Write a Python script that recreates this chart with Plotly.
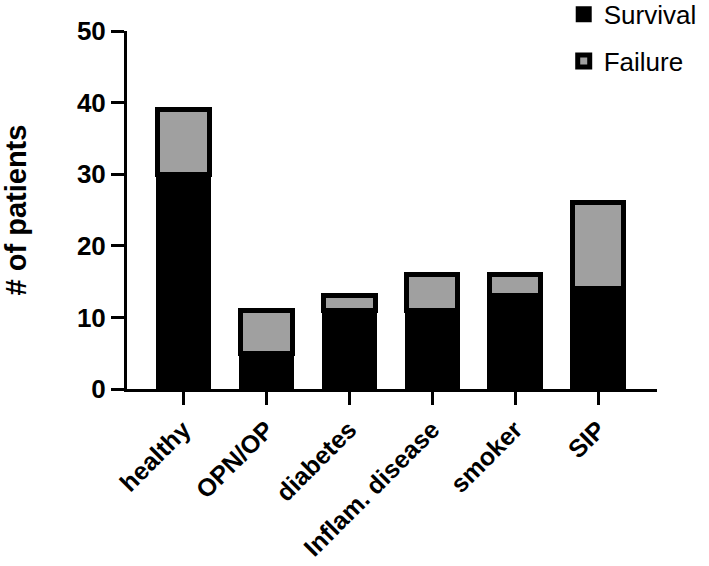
import plotly.graph_objects as go

categories = ["healthy", "OPN/OP", "diabetes", "Inflam. disease", "smoker", "SIP"]
survival = [30, 5, 11, 11, 13, 14]
failure = [9, 6, 2, 5, 3, 12]
y_ticks = [0, 10, 20, 30, 40, 50]

FONT = "Liberation Sans, Arial, sans-serif"

fig = go.Figure()
fig.add_trace(go.Bar(
    x=categories, y=survival, name="Survival", legendgroup="s",
    marker=dict(color="#000000", line=dict(color="#000000", width=4)),
    width=0.62,
))
fig.add_trace(go.Bar(
    x=categories, y=failure, name="Failure", legendgroup="f",
    marker=dict(color="#a0a0a0", line=dict(color="#000000", width=5)),
    width=0.62,
))

fig.update_layout(
    barmode="stack",
    width=709, height=566,
    margin=dict(l=127, r=52, t=31, b=177, autoexpand=False),
    plot_bgcolor="white", paper_bgcolor="white",
    font=dict(family=FONT, color="black"),
    showlegend=True,
    legend=dict(
        traceorder="grouped",
        x=0.824, xanchor="left", y=1.112, yanchor="top",
        font=dict(size=26, family=FONT, color="black"),
        tracegroupgap=10,
        bgcolor="rgba(0,0,0,0)",
    ),
    xaxis=dict(
        range=[-0.68, 5.71],
        showline=True, linecolor="black", linewidth=3,
        ticks="outside", ticklen=13, tickwidth=3, tickcolor="black",
        tickangle=-45,
        tickfont=dict(size=25, family=FONT, color="black", weight="bold"),
        showgrid=False, zeroline=False,
    ),
    yaxis=dict(
        range=[0, 50],
        tickvals=y_ticks,
        showline=True, linecolor="black", linewidth=3,
        ticks="outside", ticklen=13, tickwidth=3, tickcolor="black",
        ticklabelstandoff=0,
        tickfont=dict(size=26, family=FONT, color="black", weight="bold"),
        showgrid=False, zeroline=False,
        title=dict(text="# of patients", standoff=46,
                   font=dict(size=29, family=FONT, color="black", weight="bold")),
    ),
)

fig.write_html("out.html", config={"displayModeBar": False},
               post_script="document.body.style.margin='0';")
